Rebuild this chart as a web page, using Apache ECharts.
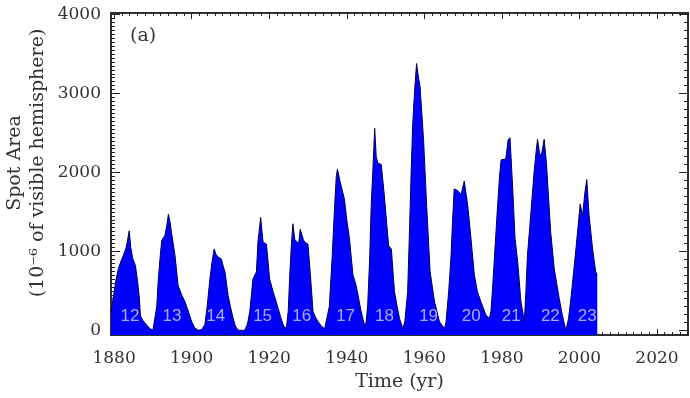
<!DOCTYPE html>
<html>
<head>
<meta charset="utf-8">
<script src="https://cdn.jsdelivr.net/npm/echarts@6/dist/echarts.min.js"></script>
<style>
  html, body { margin: 0; background: #fff; }
  #chart { width: 690px; height: 398px; }
</style>
</head>
<body>
<div id="chart"></div>
<script>
// spot area per solar cycle, [year, 1e-6 hemisphere]
var cycle12 = [[1879.2, 230], [1879.8, 420], [1880.5, 640], [1881.1, 780], [1881.8, 880], [1882.4, 950], [1883.0, 1030], [1883.4, 1120], [1883.9, 1260], [1884.3, 1050], [1884.8, 910], [1885.5, 820], [1886.1, 600], [1886.5, 420], [1886.8, 180], [1887.5, 120], [1888.5, 60], [1889.3, 20], [1890.0, 0]]
var cycle13 = [[1890.5, 10], [1891.0, 300], [1891.4, 650], [1892.0, 1000], [1892.3, 1140], [1893.1, 1200], [1893.6, 1330], [1894.0, 1470], [1894.4, 1380], [1894.8, 1240], [1895.7, 950], [1896.5, 570], [1897.4, 450], [1898.3, 360], [1899.2, 230], [1900.0, 110], [1900.8, 30], [1901.7, 0]]
var cycle14 = [[1902.6, 10], [1903.4, 70], [1904.0, 300], [1904.7, 650], [1905.3, 880], [1905.8, 1030], [1906.3, 960], [1906.8, 930], [1907.7, 900], [1908.2, 800], [1908.6, 740], [1909.4, 440], [1910.0, 300], [1910.7, 150], [1911.3, 50], [1912.0, 0], [1913.7, 0]]
var cycle15 = [[1914.4, 80], [1915.0, 240], [1915.8, 650], [1916.7, 740], [1917.1, 1120], [1917.8, 1430], [1918.4, 1120], [1919.3, 1090], [1920.1, 650], [1921.0, 490], [1922.3, 280], [1923.0, 160], [1923.6, 70], [1924.1, 20]]
var cycle16 = [[1924.5, 60], [1924.9, 240], [1925.3, 700], [1925.7, 1070], [1926.1, 1350], [1926.6, 1150], [1927.0, 1140], [1927.6, 1100], [1928.0, 1280], [1928.4, 1290], [1928.8, 1150], [1929.1, 1120], [1930.0, 1090], [1930.7, 650], [1931.3, 240], [1932.0, 160], [1932.6, 110], [1933.5, 50], [1934.3, 20]]
var cycle17 = [[1934.8, 30], [1935.5, 300], [1936.2, 900], [1936.9, 1600], [1937.3, 1950], [1937.6, 2040], [1938.2, 1900], [1938.8, 1780], [1939.4, 1660], [1940.0, 1400], [1940.7, 1160], [1941.3, 850], [1941.6, 700], [1942.4, 570], [1943.0, 420], [1943.7, 240], [1944.6, 60]]
var cycle18 = [[1945.0, 100], [1945.4, 320], [1945.9, 900], [1946.3, 1580], [1946.8, 2100], [1947.2, 2560], [1947.6, 2200], [1948.0, 2120], [1948.9, 2100], [1949.7, 1700], [1950.3, 1350], [1950.8, 1070], [1951.5, 1030], [1952.3, 490], [1953.0, 300], [1953.6, 150], [1954.5, 20]]
var cycle19 = [[1955.0, 120], [1955.7, 490], [1956.2, 1300], [1956.6, 2000], [1957.0, 2600], [1957.5, 3040], [1958.0, 3380], [1958.5, 3200], [1958.9, 3090], [1959.8, 2420], [1960.6, 1580], [1961.5, 740], [1962.6, 370], [1963.9, 110], [1965.2, 20]]
var cycle20 = [[1965.6, 110], [1966.3, 500], [1966.9, 950], [1967.3, 1400], [1967.7, 1790], [1968.6, 1770], [1969.5, 1720], [1970.3, 1890], [1971.2, 1580], [1972.0, 1180], [1972.9, 700], [1973.7, 490], [1974.6, 360], [1975.9, 190], [1976.8, 150]]
var cycle21 = [[1977.2, 250], [1977.6, 530], [1978.3, 1100], [1978.9, 1580], [1979.4, 1950], [1979.8, 2160], [1981.0, 2170], [1981.6, 2410], [1982.1, 2440], [1982.8, 1790], [1983.4, 1160], [1984.1, 860], [1984.9, 370], [1985.8, 110]]
var cycle22 = [[1986.2, 500], [1986.6, 950], [1987.5, 1500], [1988.3, 2000], [1988.8, 2250], [1989.2, 2420], [1989.7, 2250], [1990.1, 2200], [1990.5, 2300], [1990.9, 2420], [1991.5, 2120], [1991.8, 1870], [1992.6, 1240], [1993.5, 780], [1994.8, 400], [1995.6, 190], [1996.5, 0]]
var cycle23 = [[1997.2, 150], [1997.8, 400], [1999.1, 1030], [2000.2, 1600], [2000.8, 1450], [2001.4, 1740], [2001.9, 1910], [2002.5, 1450], [2003.4, 1030], [2004.2, 740], [2004.6, 700]]

// cycle numbers written inside the fill
var cycleNames = ['12', '13', '14', '15', '16', '17', '18', '19', '20', '21', '22', '23']
var cycleNameYears = [1884.1, 1894.9, 1906.2, 1918.3, 1928.4, 1939.7, 1949.7, 1961.1, 1972.1, 1982.4, 1992.5, 2002.0]
var cycleNameLevel = 175

var xTicks = [1880, 1900, 1920, 1940, 1960, 1980, 2000, 2020]
var yTicks = [0, 1000, 2000, 3000, 4000]
var xMin = 1879.2, xMax = 2028
var yMin = -60, yMax = 4020

function steps(from, to, step) {
  var out = []
  for (var v = from; v <= to + 1e-9; v += step) out.push(v)
  return out
}

var areaData = [].concat(cycle12, cycle13, cycle14, cycle15, cycle16, cycle17,
  cycle18, cycle19, cycle20, cycle21, cycle22, cycle23)
var nameData = cycleNames.map(function (n, i) {
  return [cycleNameYears[i], cycleNameLevel, n]
})

var serif = 'DejaVu Serif'
var ink = '#333'
var lineSty = { color: '#222', width: 1.5 }
function plain(v) { return String(Math.round(v)) }

function xAx(pos, ticks, len, labels) {
  return {
    type: 'value', position: pos, min: xMin, max: xMax,
    axisLine: { show: true, onZero: false, lineStyle: lineSty },
    axisTick: { show: true, inside: true, length: len, customValues: ticks, lineStyle: { color: '#222', width: 1 } },
    axisLabel: labels ? { show: true, customValues: xTicks, formatter: plain, margin: 15, fontFamily: serif, fontSize: 17, color: ink } : { show: false },
    splitLine: { show: false }
  }
}
function yAx(pos, ticks, len, labels) {
  return {
    type: 'value', position: pos, min: yMin, max: yMax,
    axisLine: { show: true, onZero: false, lineStyle: lineSty },
    axisTick: { show: true, inside: true, length: len, customValues: ticks, lineStyle: { color: '#222', width: 1 } },
    axisLabel: labels ? { show: true, customValues: yTicks, formatter: plain, margin: 10, fontFamily: serif, fontSize: 17, color: ink } : { show: false },
    splitLine: { show: false }
  }
}

var xBottom = xAx('bottom', xTicks, 6, true)
xBottom.name = 'Time (yr)'
xBottom.nameLocation = 'middle'
xBottom.nameGap = 38
xBottom.nameTextStyle = { fontFamily: serif, fontSize: 19, color: ink }

// rotated y title, two lines
function yTitle(text, x) {
  return {
    type: 'text', x: x, y: 163, rotation: Math.PI / 2,
    style: { text: text, fontFamily: serif, fontSize: 19, fill: ink, align: 'center', verticalAlign: 'middle' }
  }
}

var chart = echarts.init(document.getElementById('chart'))
chart.setOption({
  animation: false,
  backgroundColor: '#fff',
  grid: { left: 111, right: 2, top: 13, bottom: 63, outerBoundsMode: 'none' },
  xAxis: [
    xBottom,
    xAx('bottom', steps(1880, 2028, 2), 3, false),
    xAx('top', xTicks, 6, false),
    xAx('top', steps(1880, 2028, 2), 3, false)
  ],
  yAxis: [
    yAx('left', yTicks, 9, true),
    yAx('left', steps(0, 4000, 50), 4, false),
    yAx('right', yTicks, 9, false),
    yAx('right', steps(0, 4000, 100), 4, false)
  ],
  graphic: [
    yTitle('Spot Area', 15),
    yTitle('(10⁻⁶ of visible hemisphere)', 38),
    {
      type: 'text', left: 130, top: 27,
      style: { text: '(a)', fontFamily: serif, fontSize: 19, fill: ink }
    }
  ],
  series: [{
    type: 'line',
    data: areaData,
    showSymbol: false,
    sampling: 'none',
    lineStyle: { color: '#00005a', width: 1 },
    areaStyle: { color: '#0000ff', opacity: 1, origin: 'start' },
    silent: true,
    z: 2
  }, {
    type: 'scatter',
    data: nameData,
    symbolSize: 0,
    silent: true,
    z: 5,
    label: {
      show: true, position: 'inside',
      formatter: function (p) { return p.value[2] },
      fontFamily: 'Liberation Sans', fontSize: 17, color: '#d4d4ff'
    }
  }]
})
</script>
</body>
</html>
